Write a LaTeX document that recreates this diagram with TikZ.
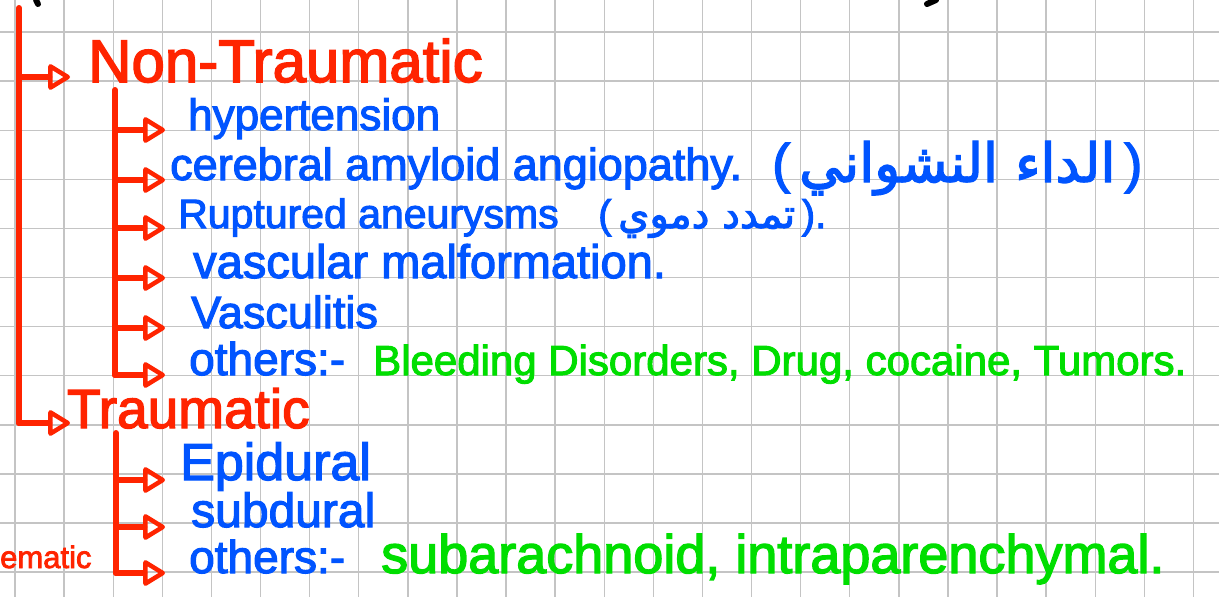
\documentclass[tikz,border=0pt]{standalone}
\usepackage{fontspec}
\setmainfont[FakeBold=2.5]{Liberation Sans}
\newfontfamily\arabicfont[Script=Arabic,FakeBold=2.5]{DejaVu Sans}
\TeXXeTstate=1
\usepackage{xcolor}
\usetikzlibrary{arrows.meta}
\definecolor{hred}{RGB}{255,36,0}
\definecolor{hblue}{RGB}{0,84,255}
\definecolor{hgreen}{RGB}{0,222,0}
\definecolor{hgrid}{RGB}{196,196,196}

\begin{document}
\begin{tikzpicture}[
    x=1pt, y=-1pt,
    gridline/.style={hgrid, line width=1.4pt},
    head/.style={text=hred, font=\fontsize{#1}{#1}\selectfont, anchor=base west, inner sep=0pt},
    head/.default=56,
    item/.style={text=hblue, font=\fontsize{#1}{#1}\selectfont, anchor=base west, inner sep=0pt},
    item/.default=44,
    extra/.style={text=hgreen, font=\fontsize{#1}{#1}\selectfont, anchor=base west, inner sep=0pt},
    extra/.default=42,
    trunk/.style={hred, line width=6pt, line cap=round, line join=round},
    arr/.style={trunk, -{Triangle[open, round, length=24pt, width=28pt, line width=4.5pt]}},
]
\fill[white] (0,0) rectangle (1219,597);
\useasboundingbox (0,0) rectangle (1219,597);
\clip (0,0) rectangle (1219,597);

% squared paper
\foreach \i in {0,...,24}
  \draw[gridline] ({15+49.1*\i},0) -- ({15+49.1*\i},597);
\foreach \j in {0,...,11}
  \draw[gridline] (0,{32+49.1*\j}) -- (1219,{32+49.1*\j});

% ink left over from the line above
\draw[line width=6pt, line cap=round] (36,0) -- (38,4);
\draw[line width=6pt, line cap=round] (927,4) -- (936,0);

% headings
\node[head=60] (nontrau) at (88,82) {Non-Traumatic};
\node[head=55] (trau) at (67,428) {Traumatic};
\node[head=31] (cut) at (0,568) {ematic};

% non-traumatic causes
\node[item=44] (hyp) at (188,130) {hypertension};
\node[item=45] (caa) at (170,180) {cerebral amyloid angiopathy.};
\node[item=54] (caaar) at (772,182) {(\,{\arabicfont\beginR الداء النشواني\endR}\,)};
\node[item=41] (rup) at (178,228) {Ruptured aneurysms};
\node[item=40] (rupar) at (598,228) {(\,{\arabicfont\beginR تمدد دموي\endR}\,).};
\node[item=47] (vas) at (193,278) {vascular malformation.};
\node[item=45] (vlt) at (191,328) {Vasculitis};
\node[item=46] (oth1) at (189,375) {others:-};
\node[extra=42] (oth1x) at (373,375) {Bleeding Disorders, Drug, cocaine, Tumors.};

% traumatic types
\node[item=52] (epi) at (180,480) {Epidural};
\node[item=48] (sub) at (191,527) {subdural};
\node[item=46] (oth2) at (189,573) {others:-};
\node[extra=54] (oth2x) at (381,573) {subarachnoid, intraparenchymal.};

% main branch
\coordinate (mtop) at (19,8);
\coordinate (mtip) at (70,0);
\coordinate (ntin) at ([yshift=5pt]nontrau.base west);
\coordinate (trin) at ([yshift=5pt]trau.base west);
\draw[trunk] (mtop) -- (mtop |- trin);
\draw[arr] (mtop |- ntin) -- (mtip |- ntin);
\draw[arr] (mtop |- trin) -- (mtip |- trin);

% sub branches
\coordinate (ntop) at (115,90);
\coordinate (ttop) at (116,433);
\coordinate (stip) at (165,0);
\draw[trunk] (ntop) -- (ntop |- oth1.base west);
\foreach \n in {hyp,caa,rup,vas,vlt,oth1}
  \draw[arr] (ntop |- \n.base west) -- (stip |- \n.base west);
\draw[trunk] (ttop) -- (ttop |- oth2.base west);
\foreach \n in {epi,sub,oth2}
  \draw[arr] (ttop |- \n.base west) -- (stip |- \n.base west);
\end{tikzpicture}
\end{document}
